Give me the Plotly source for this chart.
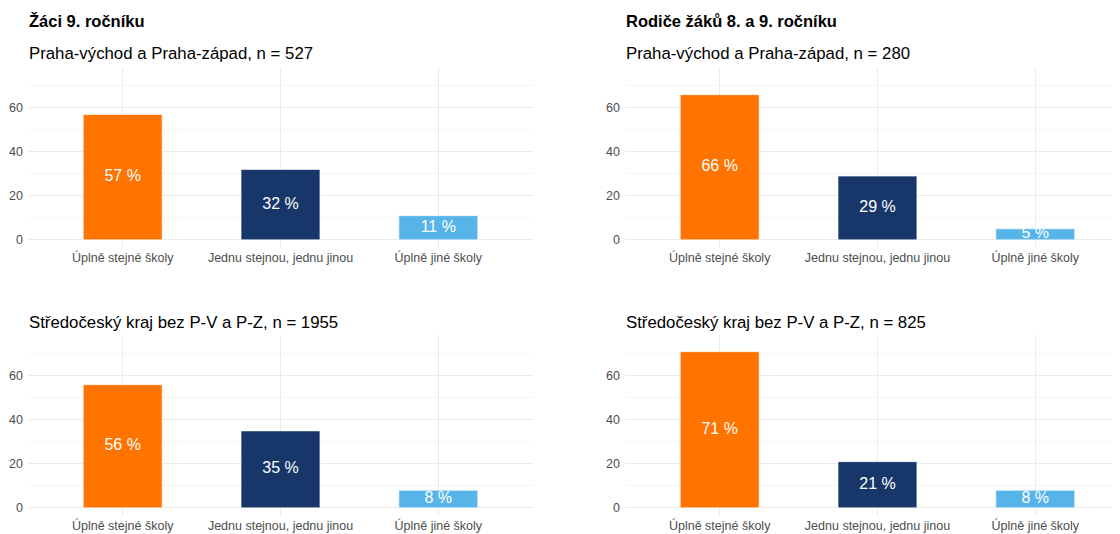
import plotly.graph_objects as go
from plotly.subplots import make_subplots

categories = ["Úplně stejné školy", "Jednu stejnou, jednu jinou", "Úplně jiné školy"]
zaci_pv = [57, 32, 11]
zaci_sc = [56, 35, 8]
rodice_pv = [66, 29, 5]
rodice_sc = [71, 21, 8]
colors = ["#FF7300", "#17376A", "#56B4E9"]

titles_bold = ["Žáci 9. ročníku", "Rodiče žáků 8. a 9. ročníku"]
subtitles = [
    ["Praha-východ a Praha-západ, n = 527", "Praha-východ a Praha-západ, n = 280"],
    ["Středočeský kraj bez P-V a P-Z, n = 1955", "Středočeský kraj bez P-V a P-Z, n = 825"],
]

OFF = 8  # page body margin
W, H = 1120 - OFF, 534 - OFF
FONT = "Liberation Sans, Arial, sans-serif"

fig = make_subplots(rows=2, cols=2)

panels = [(1, 1, zaci_pv), (1, 2, rodice_pv), (2, 1, zaci_sc), (2, 2, rodice_sc)]
for r, c, vals in panels:
    fig.add_trace(go.Bar(x=categories, y=vals, marker=dict(color=colors, line=dict(color="rgba(255,255,255,0.6)", width=1)),
                         width=0.5, showlegend=False, hoverinfo="skip"), row=r, col=c)
    fig.add_trace(go.Scatter(x=categories, y=[v / 2 for v in vals], mode="text",
                             text=[f"{v} %" for v in vals],
                             textfont=dict(color="white", size=16, family=FONT),
                             showlegend=False, hoverinfo="skip"), row=r, col=c)

def px_x(p):
    return (p - OFF) / W

def px_y(p):
    return 1 - (p - OFF) / H

# plot-area pixel boxes (page coordinates)
xdom = {1: [px_x(28), px_x(533)], 2: [px_x(625), 1.0]}
ydom = {1: [px_y(248), px_y(67)], 2: [px_y(516), px_y(335)]}
xrange = {1: [-0.6, 2.6], 2: [-0.6, -0.6 + (1120 - 625) / 157.8]}

for r in (1, 2):
    for c in (1, 2):
        fig.update_xaxes(domain=xdom[c], range=xrange[c], showgrid=True, gridcolor="#EBEBEB", gridwidth=1,
                         zeroline=False, showline=False, ticks="",
                         tickfont=dict(size=12.5, color="#4D4D4D", family=FONT), row=r, col=c)
        fig.update_yaxes(domain=ydom[r], range=[-3.7, 78.6], tickvals=[0, 20, 40, 60],
                         showgrid=True, gridcolor="#EBEBEB", gridwidth=1,
                         minor=dict(tickvals=[10, 30, 50, 70], showgrid=True, gridcolor="#F5F5F5", gridwidth=1),
                         zeroline=False, showline=False, ticks="", ticklabelstandoff=4,
                         tickfont=dict(size=12.5, color="#4D4D4D", family=FONT), row=r, col=c)

annotations = []
left_x = {1: px_x(27), 2: px_x(624)}
for c in (1, 2):
    annotations.append(dict(text="<b>" + titles_bold[c - 1] + "</b>", x=left_x[c], y=px_y(21),
                            xref="paper", yref="paper", xanchor="left", yanchor="middle", showarrow=False,
                            font=dict(size=16.5, color="#000000", family=FONT)))
    annotations.append(dict(text=subtitles[0][c - 1], x=left_x[c], y=px_y(54),
                            xref="paper", yref="paper", xanchor="left", yanchor="middle", showarrow=False,
                            font=dict(size=16.8, color="#000000", family=FONT)))
    annotations.append(dict(text=subtitles[1][c - 1], x=left_x[c], y=px_y(322),
                            xref="paper", yref="paper", xanchor="left", yanchor="middle", showarrow=False,
                            font=dict(size=16.8, color="#000000", family=FONT)))

fig.update_layout(width=W, height=H, margin=dict(l=0, r=0, t=0, b=0),
                  paper_bgcolor="white", plot_bgcolor="white", annotations=annotations,
                  bargap=0.5, font=dict(family=FONT))

fig.write_html("out.html")
